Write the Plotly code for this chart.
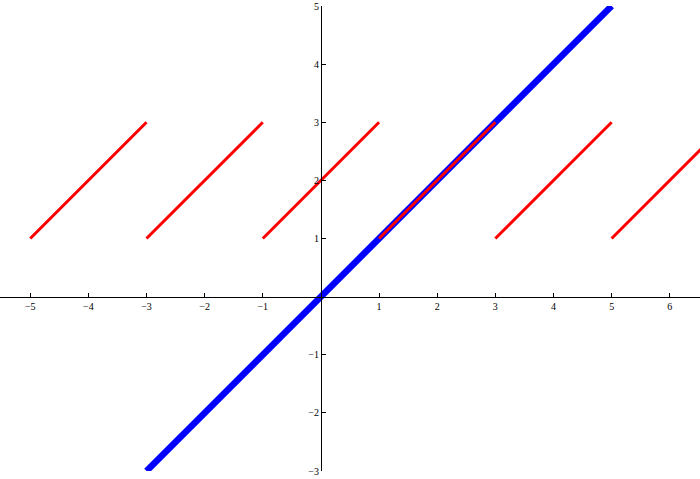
import plotly.graph_objects as go

# data
blue_x = [-3, 5]
blue_y = [-3, 5]
seg_x0 = [-5, -3, -1, 1, 3, 5]
seg_x1 = [-3, -1, 1, 3, 5, 7]
seg_y0 = [1, 1, 1, 1, 1, 1]
seg_y1 = [3, 3, 3, 3, 3, 3]
x_ticks = [-5, -4, -3, -2, -1, 1, 2, 3, 4, 5, 6]
y_ticks = [-3, -2, -1, 1, 2, 3, 4, 5]

xr = [-5.52, 6.52]
yr = [-3, 5]

fig = go.Figure()
fig.add_trace(go.Scatter(x=blue_x, y=blue_y, mode="lines",
                         line=dict(color="rgb(0,0,255)", width=6.5), hoverinfo="skip"))
rx, ry = [], []
for a, b, c, d in zip(seg_x0, seg_x1, seg_y0, seg_y1):
    rx += [a, b, None]
    ry += [c, d, None]
fig.add_trace(go.Scatter(x=rx, y=ry, mode="lines",
                         line=dict(color="rgb(255,0,0)", width=3), hoverinfo="skip"))

xpos = (0 - yr[0]) / (yr[1] - yr[0])
ypos = (0 - xr[0]) / (xr[1] - xr[0])

tickfont = dict(family="Liberation Serif", size=10, color="black")

fig.update_layout(
    width=700, height=479,
    margin=dict(l=0, r=0, t=6, b=8, pad=0),
    paper_bgcolor="white", plot_bgcolor="white",
    showlegend=False,
    font=dict(family="Liberation Serif", size=10, color="black"),
    xaxis=dict(range=xr, anchor="free", position=xpos, showline=True,
               linecolor="black", linewidth=1, ticks="inside", ticklen=4,
               tickcolor="black", tickvals=x_ticks, showgrid=False,
               zeroline=False, fixedrange=True, automargin=False,
               tickfont=tickfont),
    yaxis=dict(range=yr, anchor="free", position=ypos, showline=True,
               linecolor="black", linewidth=1, ticks="inside", ticklen=4,
               tickcolor="black", tickvals=y_ticks, showgrid=False,
               zeroline=False, fixedrange=True, automargin=False,
               tickfont=tickfont),
)

fig.write_html("out.html", config={"displayModeBar": False},
               post_script="document.body.style.margin='0';document.body.style.overflow='hidden';")
